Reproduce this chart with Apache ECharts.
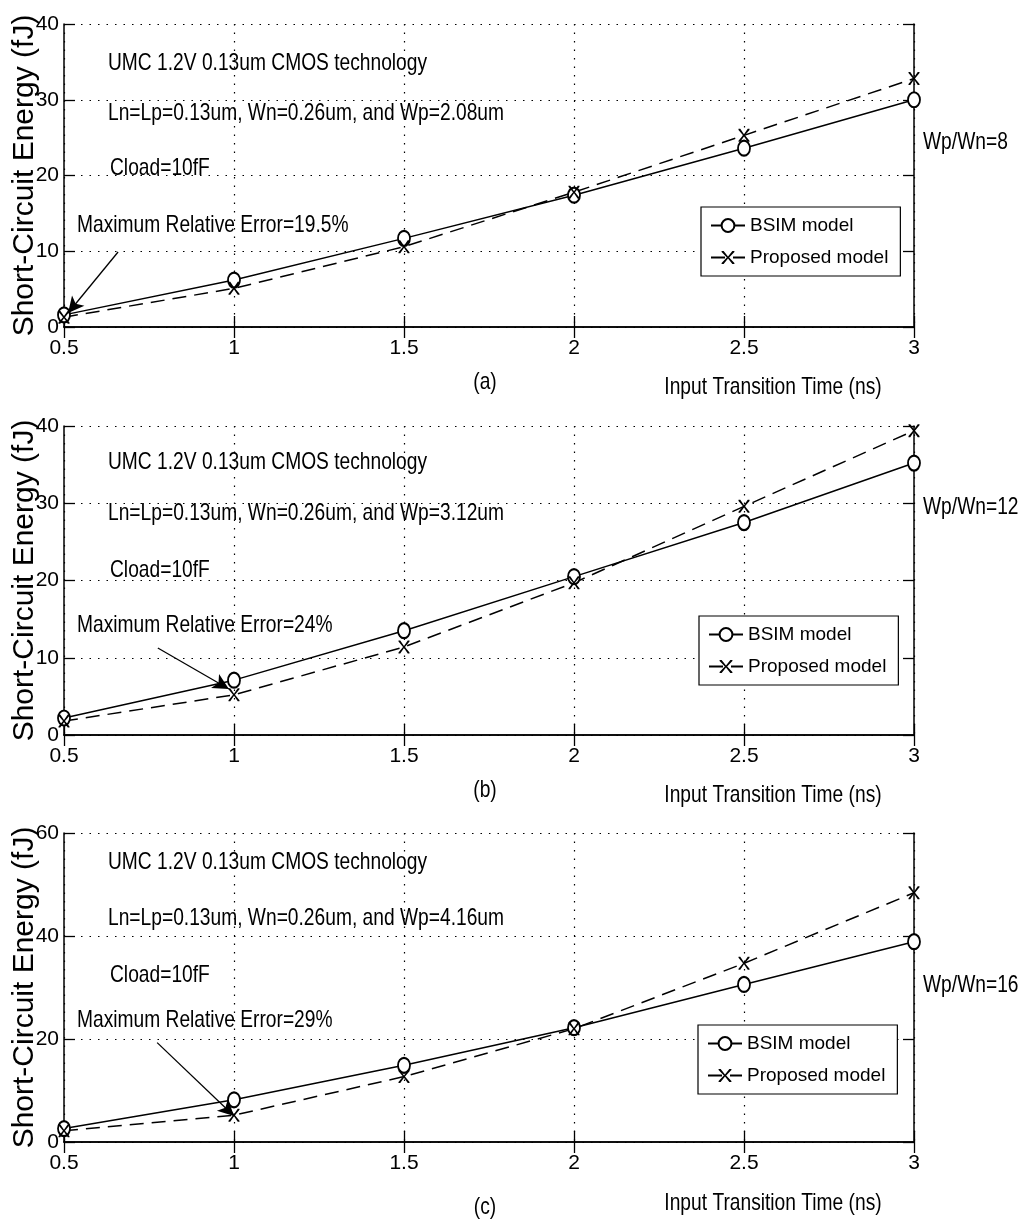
<!DOCTYPE html>
<html><head><meta charset="utf-8">
<script src="https://cdn.jsdelivr.net/npm/echarts@6/dist/echarts.min.js"></script>
<style>html,body{margin:0;padding:0;background:#fff}#c{width:1021px;height:1221px}</style>
</head><body><div id="c"></div>
<script>
// ---- data ----
const inputTime = [0.5, 1, 1.5, 2, 2.5, 3];
const xTicks = { min: 0.5, max: 3, interval: 0.5 };
const bsimA = [1.6, 6.2, 11.7, 17.4, 23.6, 30.0];
const propA = [1.3, 5.1, 10.6, 17.8, 25.3, 32.8];
const bsimB = [2.2, 7.1, 13.5, 20.5, 27.5, 35.2];
const propB = [1.8, 5.2, 11.4, 19.7, 29.6, 39.4];
const bsimC = [2.6, 8.2, 14.9, 22.2, 30.6, 38.9];
const propC = [2.2, 5.2, 12.7, 22.0, 34.7, 48.4];
const yMax = [40, 40, 60];
const yInterval = [10, 10, 20];
const seriesNames = ['BSIM model', 'Proposed model'];
const panelTags = ['(a)', '(b)', '(c)'];
const ratioLabels = ['Wp/Wn=8', 'Wp/Wn=12', 'Wp/Wn=16'];
const techText = 'UMC 1.2V 0.13um CMOS technology';
const sizeTexts = ['Ln=Lp=0.13um, Wn=0.26um, and Wp=2.08um',
                   'Ln=Lp=0.13um, Wn=0.26um, and Wp=3.12um',
                   'Ln=Lp=0.13um, Wn=0.26um, and Wp=4.16um'];
const loadText = 'Cload=10fF';
const errTexts = ['Maximum Relative Error=19.5%', 'Maximum Relative Error=24%', 'Maximum Relative Error=29%'];
const arrows = [[[0.659, 9.9], [0.512, 1.85]],
                [[0.776, 11.26], [0.985, 5.95]],
                [[0.774, 19.3], [1.0, 5.06]]];
const xName = 'Input Transition Time (ns)';
const yName = 'Short-Circuit Energy (fJ)';

// ---- layout ----
const FONT = "'Liberation Sans',Arial,sans-serif";
const grids = [
  { left: 64, top: 24, width: 850, height: 303, outerBoundsMode: 'none', containLabel: false },
  { left: 64, top: 426, width: 850, height: 309, outerBoundsMode: 'none', containLabel: false },
  { left: 64, top: 833, width: 850, height: 309, outerBoundsMode: 'none', containLabel: false }
];
const textPos = [
  { tech: 63, size: 113, load: 168, err: 225, ratio: 142, tag: 382, xn: 387, legTop: 207, legLeft: 701 },
  { tech: 462, size: 513, load: 570, err: 625, ratio: 507, tag: 790, xn: 795, legTop: 616, legLeft: 699 },
  { tech: 862, size: 918, load: 975, err: 1020, ratio: 985, tag: 1207, xn: 1203, legTop: 1025, legLeft: 698 }
];
const panels = [[bsimA, propA], [bsimB, propB], [bsimC, propC]];
const xSym = 'path://M0,0 L1.6,0 L5,4.2 L8.4,0 L10,0 L10,0.8 L5.9,5 L10,9.2 L10,10 L8.4,10 L5,5.8 L1.6,10 L0,10 L0,9.2 L4.1,5 L0,0.8 Z';

const xAxes = [], yAxes = [], series = [], legends = [], graphics = [];
const axLine = { show: true, lineStyle: { color: '#000', width: 1.5 } };
const dotted = { show: true, lineStyle: { color: '#000', width: 1.2, type: [1.5, 7] } };
const tick = { show: true, inside: true, length: 11, lineStyle: { color: '#000', width: 1.3 } };

panels.forEach((p, i) => {
  const lbl = { color: '#000', fontFamily: FONT, fontSize: 21 };
  xAxes.push({ gridIndex: i, type: 'value', position: 'bottom', min: xTicks.min, max: xTicks.max, interval: xTicks.interval,
    axisLine: axLine, axisTick: tick,
    axisLabel: Object.assign({ margin: 11, formatter: v => String(v) }, lbl), splitLine: dotted });
  xAxes.push({ gridIndex: i, type: 'value', position: 'top', min: xTicks.min, max: xTicks.max, interval: xTicks.interval,
    axisLine: axLine, axisTick: tick, axisLabel: { show: false }, splitLine: { show: false } });
  yAxes.push({ gridIndex: i, type: 'value', position: 'left', min: 0, max: yMax[i], interval: yInterval[i],
    name: yName, nameLocation: 'middle', nameGap: 24, nameRotate: 90, nameMoveOverlap: false,
    nameTextStyle: { color: '#000', fontFamily: FONT, fontSize: 30 },
    axisLine: axLine, axisTick: tick,
    axisLabel: Object.assign({ margin: 5 }, lbl), splitLine: dotted });
  yAxes.push({ gridIndex: i, type: 'value', position: 'right', min: 0, max: yMax[i], interval: yInterval[i],
    axisLine: axLine, axisTick: tick, axisLabel: { show: false }, splitLine: { show: false } });

  series.push({ name: seriesNames[0], type: 'line', xAxisIndex: 2 * i, yAxisIndex: 2 * i,
    data: inputTime.map((x, k) => [x, p[0][k]]), symbol: 'emptyCircle', symbolSize: [12, 15], showAllSymbol: true,
    lineStyle: { color: '#000', width: 1.5, type: 'solid' }, itemStyle: { color: '#000', borderColor: '#000', borderWidth: 1.3 },
    markLine: { silent: true, symbol: ['none', 'arrow'], symbolSize: [12, 16], label: { show: false },
      lineStyle: { color: '#000', width: 1.3, type: 'solid' },
      data: [[{ coord: arrows[i][0] }, { coord: arrows[i][1] }]] }, z: 3 });
  series.push({ name: seriesNames[1], type: 'line', xAxisIndex: 2 * i, yAxisIndex: 2 * i,
    data: inputTime.map((x, k) => [x, p[1][k]]), symbol: xSym, symbolSize: [11, 13], showAllSymbol: true,
    lineStyle: { color: '#000', width: 1.5, type: [14, 8] }, itemStyle: { color: '#000' }, z: 3 });

  const tp = textPos[i];
  legends.push({ orient: 'vertical', left: tp.legLeft, top: tp.legTop, data: seriesNames,
    backgroundColor: '#fff', borderColor: '#000', borderWidth: 1.2, borderRadius: 0,
    padding: [9, 12, 9, 9], itemGap: 13, itemWidth: 34, itemHeight: 16,
    textStyle: { color: '#000', fontFamily: FONT, fontSize: 19 }, selectedMode: false });

  const t = (text, x, y, align) => ({ type: 'text', x: x, y: y, z: 10, scaleX: 0.8, scaleY: 1,
    style: { text: text, fill: '#000', font: "24px " + FONT, textAlign: align || 'left', textVerticalAlign: 'middle' } });
  graphics.push(t(techText, 108, tp.tech));
  graphics.push(t(sizeTexts[i], 108, tp.size));
  graphics.push(t(loadText, 110, tp.load));
  graphics.push(t(errTexts[i], 77, tp.err));
  graphics.push(t(ratioLabels[i], 923, tp.ratio));
  graphics.push(t(panelTags[i], 485, tp.tag, 'center'));
  graphics.push(t(xName, 773, tp.xn, 'center'));
});

const chart = echarts.init(document.getElementById('c'), null, { renderer: 'canvas' });
chart.setOption({
  animation: false,
  backgroundColor: '#fff',
  grid: grids,
  xAxis: xAxes,
  yAxis: yAxes,
  legend: legends,
  series: series,
  graphic: graphics
});
</script></body></html>
